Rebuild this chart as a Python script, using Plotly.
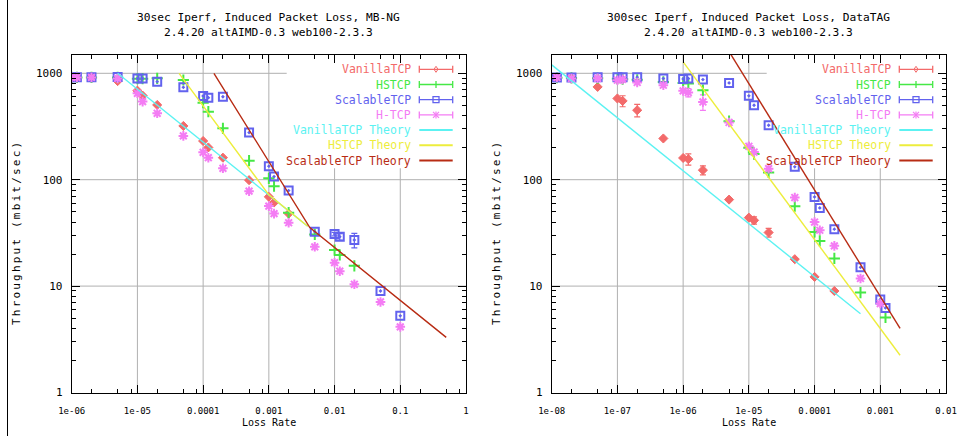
import plotly.graph_objects as go

W, H = 963, 436

# ---------------- data: 30sec Iperf, MB-NG ----------------
loss_mbng = [1e-6, 1.2e-6, 2e-6, 5e-6, 1e-5, 1.2e-5, 2e-5, 5e-5, 1e-4, 1.2e-4, 2e-4,
             5e-4, 1e-3, 1.2e-3, 2e-3, 5e-3, 1e-2, 1.2e-2, 2e-2, 5e-2, 1e-1]
vanilla_mbng = [915, 915, 915, 845, 687, 617, 504, 320, 231, 201, 161, 99, 69, 61, 48]
hstcp_mbng = [915, 915, 915, 915, 890, 890, 897, 865, 529, 436, 304, 151, 103, 87, 49,
              30.6, 21.8, 19.6, 15.5]
scalable_mbng = [920, 920, 920, 925, 894, 894, 835, 738, 612, 590, 602, 277, 134, 107, 79,
                 32.4, 30.8, 29.1, 27.1, 9.0, 5.26]
htcp_mbng = [915, 915, 915, 895, 649, 542, 421, 258, 181, 161, 128, 78, 56.5, 48, 39.4,
             23.4, 16.6, 13.8, 10.4, 7.1, 4.14]

# ---------------- data: 300sec Iperf, DataTAG ----------------
loss_dt = [1.2e-8, 2e-8, 5e-8, 1e-7, 1.2e-7, 2e-7, 5e-7, 1e-6, 1.2e-6, 2e-6, 5e-6,
           1e-5, 1.2e-5, 2e-5, 5e-5, 1e-4, 1.2e-4, 2e-4, 5e-4, 1e-3, 1.2e-3]
vanilla_dt = [914, 900, 745, 580, 550, 450, 244, 160, 156, 123, 65, 44, 41.5, 31.9, 17.9,
              12.2, None, 9.0]
hstcp_dt = [910, 905, 900, 890, 880, 870, 830, 812, 802, 694, 355, 200, 174, 117, 56.4,
            32.3, 26.6, 18.2, 8.7, None, 5.07]
scalable_dt = [914, 914, 916, 920, 920, 920, 894, 885, 894, 873, 812, 614, 501, 325, 132,
               68.9, 54.3, 34.3, 15.0, 7.48, 6.24]
htcp_dt = [914, 894, 897, 861, 876, 820, 773, 684, 660, 538, 345, 206, 182, 127, 68, 40,
           33.5, 23.9, 11.8, 6.86]

# error bars (only where visible in the reference)
scal_err_mbng_x = [1e-2, 1.2e-2, 2e-2]
scal_err_mbng_y = [30.8, 29.1, 27.1]
scal_err_mbng_e = [1.2, 2.0, 4.2]
van_err_dt_x = [1.2e-7, 2e-7, 1.2e-6, 2e-6, 1.2e-5, 2e-5]
van_err_dt_y = [550, 450, 156, 123, 41.5, 31.9]
van_err_dt_e = [65, 60, 19, 12, 3.3, 3.0]
htcp_err_dt_x = [1.2e-7, 1.2e-6, 2e-6]
htcp_err_dt_y = [876, 660, 538]
htcp_err_dt_e = [45, 60, 90]

# theory curves (vertices)
van_th_mbng_x = [5e-6, 3.9e-3]
van_th_mbng_y = [1000, 36.5]
hs_th_mbng_x = [4.3e-5, 1e-3, 3.9e-3]
hs_th_mbng_y = [1000, 72, 36.5]
sc_th_mbng_x = [1.46e-4, 4.2e-3, 0.5]
sc_th_mbng_y = [1000, 35.5, 3.3]
van_th_dt_x = [1e-8, 5e-4]
van_th_dt_y = [1200, 5.5]
hs_th_dt_x = [1e-6, 2e-3]
hs_th_dt_y = [1280, 2.24]
sc_th_dt_x = [5e-6, 2e-3]
sc_th_dt_y = [1600, 4.0]

# axis ticks
xt_mbng = [1e-6, 1e-5, 1e-4, 1e-3, 1e-2, 1e-1, 1]
xt_mbng_text = ["1e-06", "1e-05", "0.0001", "0.001", "0.01", "0.1", "1"]
xt_dt = [1e-8, 1e-7, 1e-6, 1e-5, 1e-4, 1e-3, 1e-2]
xt_dt_text = ["1e-08", "1e-07", "1e-06", "1e-05", "0.0001", "0.001", "0.01"]
yt = [1, 10, 100, 1000]
yt_text = ["1", "10", "100", "1000"]

titles = ["30sec Iperf, Induced Packet Loss, MB-NG<br>2.4.20 altAIMD-0.3 web100-2.3.3",
          "300sec Iperf, Induced Packet Loss, DataTAG<br>2.4.20 altAIMD-0.3 web100-2.3.3"]
legend_names = ["VanillaTCP", "HSTCP", "ScalableTCP", "H-TCP",
                "VanillaTCP Theory", "HSTCP Theory", "ScalableTCP Theory"]

# ---------------- styles ----------------
C_VAN, C_HS, C_SC, C_HT = "#f36a6a", "#45e845", "#6262ee", "#f47cf4"
C_VT, C_HST, C_ST = "#5cf2f2", "#eded3c", "#b82c14"
GRID = "#b0b0b0"
MONO = "DejaVu Sans Mono"
YLOG_TOP = 3.172
Y_TOP = 10 ** YLOG_TOP

fig = go.Figure()


def grid_traces(xa, ya, xmajor, xmin, xmax, key_x, key_y):
    gx, gy = [], []
    for v in xmajor[1:-1]:
        gx += [v, v, None]
        gy += [1, Y_TOP if v < key_x else key_y, None]
    for v in yt[1:]:
        gx += [xmin, xmax if v < key_y else key_x, None]
        gy += [v, v, None]
    fig.add_trace(go.Scatter(x=gx, y=gy, mode="lines", line=dict(color=GRID, width=1),
                             xaxis=xa, yaxis=ya, showlegend=False, hoverinfo="skip"))


grid_traces("x", "y", xt_mbng, 1e-6, 1, 1.87e-3, 128)
grid_traces("x2", "y2", xt_dt, 1e-8, 1e-2, 1.87e-5, 128)

panels = [
    ("x", "y", loss_mbng, [vanilla_mbng, hstcp_mbng, scalable_mbng, htcp_mbng],
     [(van_th_mbng_x, van_th_mbng_y), (hs_th_mbng_x, hs_th_mbng_y), (sc_th_mbng_x, sc_th_mbng_y)],
     [(scal_err_mbng_x, scal_err_mbng_y, scal_err_mbng_e, C_SC)]),
    ("x2", "y2", loss_dt, [vanilla_dt, hstcp_dt, scalable_dt, htcp_dt],
     [(van_th_dt_x, van_th_dt_y), (hs_th_dt_x, hs_th_dt_y), (sc_th_dt_x, sc_th_dt_y)],
     [(van_err_dt_x, van_err_dt_y, van_err_dt_e, C_VAN),
      (htcp_err_dt_x, htcp_err_dt_y, htcp_err_dt_e, C_HT)]),
]

markers = [
    dict(symbol="diamond", size=7, color=C_VAN, line=dict(color=C_VAN, width=1)),
    dict(symbol="cross-thin-open", size=8, color=C_HS, line=dict(color=C_HS, width=2)),
    dict(symbol="square-open-dot", size=8, color=C_SC, line=dict(color=C_SC, width=2)),
    dict(symbol="asterisk-open", size=8, color=C_HT, line=dict(color=C_HT, width=2)),
]
th_colors = [C_VT, C_HST, C_ST]

for xa, ya, loss, series, theories, errs in panels:
    for ex, ey, ee, col in errs:
        fig.add_trace(go.Scatter(x=ex, y=ey, mode="markers", marker=dict(size=1, opacity=0),
                                 error_y=dict(type="data", array=ee, color=col, thickness=1.2, width=3),
                                 xaxis=xa, yaxis=ya, showlegend=False, hoverinfo="skip"))
    for vals, mk in zip(series, markers):
        fig.add_trace(go.Scatter(x=loss[:len(vals)], y=vals, mode="markers", marker=mk,
                                 xaxis=xa, yaxis=ya, showlegend=False))
    for (tx, ty), col in zip(theories, th_colors):
        fig.add_trace(go.Scatter(x=tx, y=ty, mode="lines", line=dict(color=col, width=1.4),
                                 xaxis=xa, yaxis=ya, showlegend=False))

# ---------------- layout ----------------
X1_DOM = [71.7 / W, 466 / W]
X2_DOM = [551.7 / W, 946 / W]
Y_DOM = [1 - 392.5 / H, 1 - 55 / H]

axis_common = dict(type="log", showgrid=False, zeroline=False, showline=True, linecolor="black",
                   linewidth=1, mirror="ticks", ticks="inside", ticklen=8, tickcolor="black",
                   tickwidth=1, automargin=False)


def minor_vals(lo, hi, mult):
    out = []
    for e in range(lo, hi):
        for m in mult:
            out.append(m * 10 ** e)
    return out


xfont = dict(family=MONO, size=9, color="black")
yfont = dict(family=MONO, size=11, color="black")
fig.update_layout(
    width=W, height=H, margin=dict(l=0, r=0, t=0, b=0),
    paper_bgcolor="white", plot_bgcolor="white", showlegend=False,
    xaxis=dict(**axis_common, domain=X1_DOM, range=[-6, 0], tickvals=xt_mbng, ticktext=xt_mbng_text,
               tickfont=xfont, ticklabelstandoff=10, ticklabeloverflow="allow",
               minor=dict(ticks="inside", ticklen=4, tickcolor="black",
                          tickvals=minor_vals(-6, 0, [2, 5, 8])), anchor="y"),
    xaxis2=dict(**axis_common, domain=X2_DOM, range=[-8, -2], tickvals=xt_dt, ticktext=xt_dt_text,
                tickfont=xfont, ticklabelstandoff=10, ticklabeloverflow="allow",
                minor=dict(ticks="inside", ticklen=4, tickcolor="black",
                           tickvals=minor_vals(-8, -2, [2, 5, 8])), anchor="y2"),
    yaxis=dict(**axis_common, domain=Y_DOM, range=[0, YLOG_TOP], tickvals=yt, ticktext=yt_text,
               tickfont=yfont, ticklabelstandoff=6,
               minor=dict(ticks="inside", ticklen=4, tickcolor="black",
                          tickvals=minor_vals(0, 4, [2, 3, 4, 5, 6, 7, 8, 9])), anchor="x"),
    yaxis2=dict(**axis_common, domain=Y_DOM, range=[0, YLOG_TOP], tickvals=yt, ticktext=yt_text,
                tickfont=yfont, ticklabelstandoff=6,
                minor=dict(ticks="inside", ticklen=4, tickcolor="black",
                           tickvals=minor_vals(0, 4, [2, 3, 4, 5, 6, 7, 8, 9])), anchor="x2"),
)

ann = []
shapes = [dict(type="line", xref="paper", yref="paper", x0=7.5 / W, x1=7.5 / W, y0=0, y1=1,
               line=dict(color="black", width=1))]


def X(p):
    return p / W


def Y(p):
    return 1 - p / H


for k, (dom, title) in enumerate(zip([X1_DOM, X2_DOM], titles)):
    cx = (dom[0] + dom[1]) / 2
    ann.append(dict(xref="paper", yref="paper", x=cx, y=Y(25), text=title, showarrow=False,
                    font=dict(family=MONO, size=11.2, color="black"), xanchor="center", yanchor="middle"))
    ann.append(dict(xref="paper", yref="paper", x=cx, y=Y(422), text="Loss Rate", showarrow=False,
                    font=dict(family=MONO, size=10, color="black"), xanchor="center", yanchor="middle"))
    ann.append(dict(xref="paper", yref="paper", x=X(17 + 480 * k), y=Y(233),
                    text='<span style="letter-spacing:2.2px">Throughput (mbit/sec)</span>',
                    textangle=-90, showarrow=False,
                    font=dict(family=MONO, size=11, color="black"), xanchor="center", yanchor="middle"))

    # gnuplot-style key: text right-aligned, sample on the right
    off = 480 * k
    leg_cols = [C_VAN, C_HS, C_SC, C_HT, C_VT, C_HST, C_ST]
    x0p, x1p = 419.3 + off, 452.7 + off
    xcp = (x0p + x1p) / 2
    for i, (name, col) in enumerate(zip(legend_names, leg_cols)):
        yp = 69.3 + 15.2 * i
        ann.append(dict(xref="paper", yref="paper", x=X(412.5 + off), y=Y(yp), text=name,
                        showarrow=False, font=dict(family=MONO, size=11.5, color=col),
                        xanchor="right", yanchor="middle"))
        shapes.append(dict(type="line", xref="paper", yref="paper", x0=X(x0p), x1=X(x1p),
                           y0=Y(yp), y1=Y(yp), line=dict(color=col, width=1.3 if i < 4 else 2)))
        if i < 4:
            for xe in (x0p, x1p):
                shapes.append(dict(type="line", xref="paper", yref="paper", x0=X(xe), x1=X(xe),
                                   y0=Y(yp - 3.5), y1=Y(yp + 3.5), line=dict(color=col, width=1.3)))
        if i == 0:
            path = "M {} {} L {} {} L {} {} L {} {} Z".format(
                X(xcp), Y(yp - 3), X(xcp + 2), Y(yp), X(xcp), Y(yp + 3), X(xcp - 2), Y(yp))
            shapes.append(dict(type="path", xref="paper", yref="paper", path=path,
                               line=dict(color=col, width=1)))
        elif i == 1:
            shapes.append(dict(type="line", xref="paper", yref="paper", x0=X(xcp), x1=X(xcp),
                               y0=Y(yp - 3.5), y1=Y(yp + 3.5), line=dict(color=col, width=1.3)))
        elif i == 2:
            shapes.append(dict(type="rect", xref="paper", yref="paper", x0=X(xcp - 3), x1=X(xcp + 3),
                               y0=Y(yp - 3), y1=Y(yp + 3), line=dict(color=col, width=1.3)))
        elif i == 3:
            for dx, dy in ((3, 3), (3, -3)):
                shapes.append(dict(type="line", xref="paper", yref="paper", x0=X(xcp - dx), x1=X(xcp + dx),
                                   y0=Y(yp - dy), y1=Y(yp + dy), line=dict(color=col, width=1.2)))
            shapes.append(dict(type="line", xref="paper", yref="paper", x0=X(xcp), x1=X(xcp),
                               y0=Y(yp - 3.5), y1=Y(yp + 3.5), line=dict(color=col, width=1.2)))

fig.update_layout(annotations=ann, shapes=shapes)
fig.write_html("out.html", config={"displayModeBar": False},
               post_script="document.body.style.margin='0';document.body.style.padding='0';")
